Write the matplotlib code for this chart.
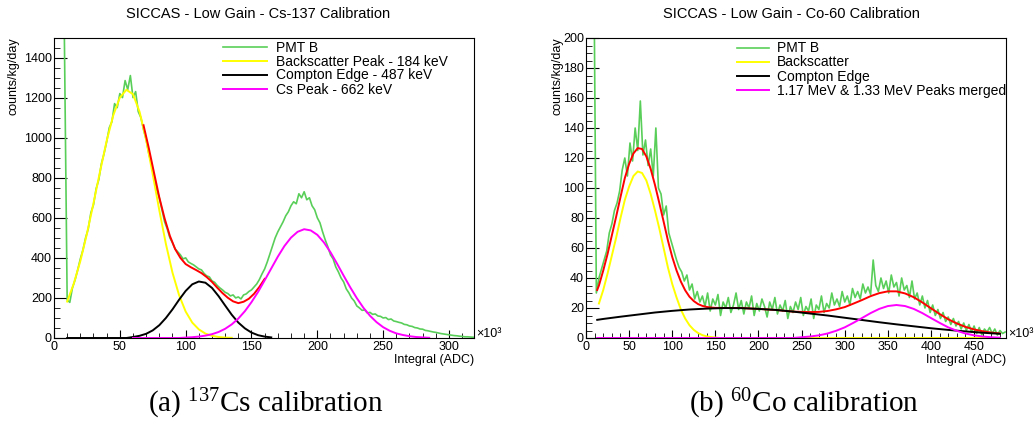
import numpy as np
import matplotlib.pyplot as plt
from matplotlib.ticker import MultipleLocator

plt.rcParams['font.family'] = ['Liberation Sans', 'DejaVu Sans']
plt.rcParams['mathtext.fontset'] = 'custom'
plt.rcParams['mathtext.rm'] = 'Liberation Serif'

# ---- Cs-137 (left) ----
# PMT B histogram, bins every 2 (x10^3 ADC) starting at 6
cs_hist_x = np.arange(6, 321, 2)
cs_hist = [
    2600, 1430, 190, 178, 250, 290, 340, 395, 440, 500,
    545, 625, 665, 745, 790, 870, 920, 980, 1050, 1080,
    1170, 1150, 1220, 1200, 1285, 1240, 1310, 1200, 1230, 1130,
    1100, 1040, 990, 920, 870, 800, 740, 700, 640, 580,
    545, 500, 475, 445, 430, 415, 395, 400, 380, 372,
    365, 355, 345, 340, 322, 310, 305, 285, 278, 262,
    250, 240, 228, 222, 210, 215, 200, 205, 195, 215,
    220, 232, 240, 255, 270, 292, 320, 345, 380, 420,
    460, 500, 530, 555, 580, 610, 630, 660, 680, 670,
    720, 700, 730, 690, 700, 660, 640, 600, 575, 530,
    490, 455, 415, 395, 355, 330, 300, 280, 245, 225,
    200, 185, 160, 150, 138, 140, 125, 128, 118, 120,
    110, 108, 100, 102, 92, 95, 85, 82, 78, 75,
    68, 66, 60, 58, 52, 50, 45, 44, 38, 36,
    33, 30, 28, 25, 22, 20, 18, 16, 14, 12,
    11, 9, 8, 6, 6, 5, 4, 3,
]
# fit components, read every 5
cs_back_x = np.arange(10, 136, 5)
cs_back = [182, 271, 384, 520, 673, 832, 984, 1111, 1200, 1239,
           1217, 1129, 989, 817, 637, 469, 326, 214, 132, 77,
           43, 22, 11, 5, 2, 1]
cs_edge_x = np.arange(10, 166, 5)
cs_edge = [0, 0, 0, 0, 0, 0, 0, 0, 0, 0,
           5, 11, 21, 38, 64, 100, 143, 191, 235, 268,
           282, 276, 250, 209, 162, 116, 77, 48, 27, 14,
           7, 3]
cs_peak_x = np.arange(60, 286, 5)
cs_peak = [0, 0, 0, 0, 0, 0, 0, 0, 2, 4,
           7, 12, 19, 30, 46, 68, 97, 134, 179, 230,
           288, 347, 406, 459, 501, 530, 543, 537, 515, 477,
           428, 371, 311, 253, 199, 151, 111, 79, 54, 36,
           23, 15, 9, 5, 3, 1]
# total fit, read every 4
cs_total_x = np.arange(68, 161, 4)
cs_total = [1062, 948, 824, 701, 597, 510, 444, 400, 369, 353,
            339, 324, 304, 280, 251, 224, 201, 183, 174, 181,
            196, 221, 255, 295]

# ---- Co-60 (right) ----
co_hist_x = np.arange(9, 487, 3)
co_hist = [
    260, 30, 40, 46, 52, 58, 70, 76, 85, 90,
    98, 112, 120, 108, 130, 118, 140, 125, 158, 122,
    132, 115, 126, 108, 140, 100, 96, 82, 88, 70,
    64, 58, 52, 47, 44, 38, 42, 32, 36, 26,
    31, 24, 28, 21, 30, 18, 26, 22, 29, 15,
    24, 20, 27, 17, 22, 30, 19, 25, 16, 24,
    20, 28, 15, 23, 18, 26, 21, 14, 24, 19,
    27, 16, 22, 18, 25, 13, 21, 17, 24, 19,
    27, 15, 21, 18, 26, 13, 22, 19, 28, 17,
    23, 20, 30, 22, 26, 21, 31, 24, 28, 22,
    33, 27, 31, 26, 36, 30, 34, 29, 52, 35,
    31, 40, 33, 38, 30, 42, 34, 37, 28, 40,
    32, 35, 27, 38, 26, 30, 22, 28, 20, 25,
    17, 22, 15, 19, 13, 17, 11, 14, 9, 13,
    8, 11, 6, 10, 5, 9, 4, 8, 3, 7,
    2, 6, 4, 7, 3, 6, 2, 5, 3, 4,
]
co_back_x = np.arange(15, 481, 5)
co_back = [23, 32, 43, 55, 67, 80, 92, 101, 108, 111,
           110, 105, 96, 85, 73, 60, 47, 36, 27, 19,
           13, 8.5, 5.4, 3.3, 1.9, 1.1, 0.6, 0.3] + [0] * 66
co_edge_x = [13, 20, 40, 60, 80, 100, 120, 140, 160, 180, 200, 220, 240,
             260, 280, 300, 320, 340, 360, 380, 400, 420, 440, 460, 480]
co_edge = [12.1, 12.7, 14.2, 15.6, 17.0, 18.1, 19.0, 19.6, 19.96, 19.9, 19.4,
           18.7, 17.6, 16.3, 15.0, 13.5, 12.0, 10.5, 9.1, 7.8, 6.5, 5.4,
           4.4, 3.5, 2.8]
co_peak_x = [13, 100, 200, 240, 250, 260, 270, 280, 290, 300, 310, 320, 330,
             340, 350, 360, 370, 380, 390, 400, 410, 420, 430, 440, 450, 460,
             470, 480]
co_peak = [0, 0, 0, 0, 0.5, 1.0, 1.75, 3.0, 4.8, 7.1, 10.1, 13.3, 16.6, 19.4,
           21.3, 22, 21.3, 19.4, 16.6, 13.3, 10.1, 7.1, 4.8, 3.0, 1.75, 1.0,
           0.5, 0.2]
co_total_x = [13, 15, 20, 25, 30, 35, 40, 45, 50, 55, 60, 65, 70, 75, 80, 85,
              90, 95, 100, 105, 110, 115, 120, 125, 130, 135, 140, 145, 150,
              160, 180, 200, 220, 240, 250, 260, 270, 280, 290, 300, 310, 320,
              330, 340, 350, 360, 370, 380, 390, 400, 410, 420, 430, 440, 450,
              460, 470, 480]
co_total = [32, 35, 45, 56, 68.5, 81, 94, 106.6, 116, 123, 126.6, 126, 121,
            112.7, 102, 90, 77.6, 65, 54, 45, 37.6, 31.8, 27.5, 24.6, 22.6,
            21.4, 20.7, 20.3, 20.1, 20, 20, 19.4, 18.7, 17.6, 17.4, 17.3, 17.4,
            18, 19.1, 20.6, 22.9, 25.3, 27.9, 29.9, 31.1, 31.1, 29.7, 27.2,
            23.7, 19.8, 16, 12.5, 9.7, 7.4, 5.7, 4.5, 3.6, 3.0]

GREEN = '#59cf59'
W, H = 1035, 428
fig = plt.figure(figsize=(W / 100, H / 100), dpi=100)


def px_axes(x0, x1, y0, y1):
    # axes from pixel box (y measured from top)
    return fig.add_axes([x0 / W, 1 - y1 / H, (x1 - x0) / W, (y1 - y0) / H])


def style(ax, xmax, ymax, ymaj, ymin):
    ax.set_xlim(0, xmax)
    ax.set_ylim(0, ymax)
    ax.xaxis.set_major_locator(MultipleLocator(50))
    ax.xaxis.set_minor_locator(MultipleLocator(10))
    ax.yaxis.set_major_locator(MultipleLocator(ymaj))
    ax.yaxis.set_minor_locator(MultipleLocator(ymin))
    ax.tick_params(axis='both', which='both', direction='in', labelsize=9,
                   top=False, right=False)
    ax.tick_params(axis='x', which='major', length=6, pad=2.5)
    ax.tick_params(axis='x', which='minor', length=3.5)
    ax.tick_params(axis='y', which='major', length=9, pad=1.5)
    ax.tick_params(axis='y', which='minor', length=4.5)
    for s in ax.spines.values():
        s.set_linewidth(0.8)


def panel(ax, hx, hy, parts, total, labels, hlen, x_leg, y_leg):
    h_hist, = ax.plot(hx, hy, color=GREEN, lw=1.2)
    bx, by = parts[0]
    h_back, = ax.plot(bx, by, color='#ffff00', lw=1.4)
    ax.plot(total[0], total[1], color='#ff0000', lw=1.4)
    ex, ey = parts[1]
    h_edge, = ax.plot(ex, ey, color='black', lw=1.4)
    px, py = parts[2]
    h_peak, = ax.plot(px, py, color='#ff00ff', lw=1.4)
    ax.legend([h_hist, h_back, h_edge, h_peak], labels, loc='upper left',
              bbox_to_anchor=(x_leg / W, 1 - y_leg / H),
              bbox_transform=fig.transFigure, frameon=False, fontsize=10,
              borderpad=0, borderaxespad=0, labelspacing=0.0,
              handlelength=hlen, handletextpad=0.6)


# left panel
ax1 = px_axes(54, 474, 37.5, 338)
style(ax1, 319, 1500, 200, 50)
panel(ax1, cs_hist_x, cs_hist,
      [(cs_back_x, cs_back), (cs_edge_x, cs_edge), (cs_peak_x, cs_peak)],
      (cs_total_x, cs_total),
      ['PMT B', 'Backscatter Peak - 184 keV', 'Compton Edge - 487 keV',
       'Cs Peak - 662 keV'], 3.2, 223, 40.5)

# right panel
ax2 = px_axes(586, 1006, 38, 338)
style(ax2, 487, 200, 20, 5)
panel(ax2, co_hist_x, co_hist,
      [(co_back_x, co_back), (co_edge_x, co_edge), (co_peak_x, co_peak)],
      (co_total_x, co_total),
      ['PMT B', 'Backscatter', 'Compton Edge',
       '1.17 MeV & 1.33 MeV Peaks merged'], 2.3, 737, 41.5)

# titles, axis titles (ROOT style placement)
fig.text(258 / W, 1 - 14 / H, 'SICCAS - Low Gain - Cs-137 Calibration',
         ha='center', va='center', fontsize=10.5)
fig.text(791 / W, 1 - 14 / H, 'SICCAS - Low Gain - Co-60 Calibration',
         ha='center', va='center', fontsize=10.5)
for xl in (14, 557):
    fig.text(xl / W, 1 - 37 / H, 'counts/kg/day', rotation=90,
             ha='center', va='top', fontsize=9)
for xr in (474, 1006):
    fig.text(xr / W, 1 - 354 / H, 'Integral (ADC)', ha='right', va='top',
             fontsize=9)
    fig.text((xr + 2) / W, 1 - 334 / H, '×10³', ha='left', va='center',
             fontsize=9)

# captions
fig.text(266 / W, 1 - 404 / H, r'(a) $\mathrm{^{137}}$Cs calibration',
         ha='center', va='center', fontsize=21, family='Liberation Serif')
fig.text(804 / W, 1 - 404 / H, r'(b) $\mathrm{^{60}}$Co calibration',
         ha='center', va='center', fontsize=21, family='Liberation Serif')

fig.savefig('out.png', dpi=100)
